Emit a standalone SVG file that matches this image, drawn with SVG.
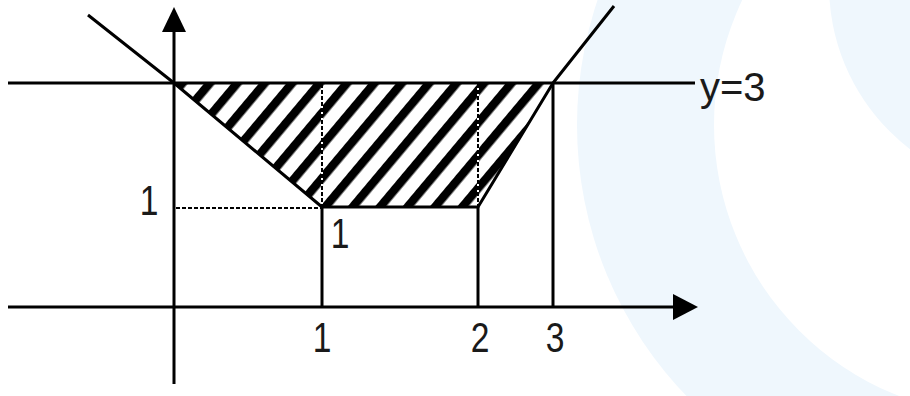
<svg xmlns="http://www.w3.org/2000/svg" width="910" height="396" viewBox="0 0 910 396">
  <style>
    .ln { stroke: #000; stroke-width: 3; fill: none; stroke-linecap: butt; stroke-linejoin: round; }
    .dot { stroke: #000; stroke-width: 2; stroke-dasharray: 4 2; fill: none; }
    .lbl { font-family: "Liberation Sans", Arial, sans-serif; font-size: 42px; fill: #1a1a1a; }
    .bg { fill: #eff7fd; }
  </style>
  <defs>
    <pattern id="hatch" patternUnits="userSpaceOnUse" width="21" height="20" patternTransform="rotate(40)">
      <rect x="0" y="0" width="21" height="20" fill="#fff"/>
      <rect x="0" y="0" width="8.5" height="20" fill="#000"/>
    </pattern>
  </defs>

  <rect width="910" height="396" fill="#fff"/>
  <g id="background">
    <circle class="bg" cx="967" cy="125" r="390"/>
    <circle cx="1005" cy="125" r="291" fill="#fff"/>
    <circle class="bg" cx="1036" cy="-15" r="207"/>
  </g>

  <g id="region">
    <polygon points="174,83 322,207 478,207 553,83" fill="url(#hatch)"/>
    <line x1="322" y1="84" x2="322" y2="207" stroke="#fff" stroke-width="2"/>
    <line x1="478" y1="84" x2="478" y2="207" stroke="#fff" stroke-width="2"/>
    <line class="dot" x1="322" y1="84" x2="322" y2="207"/>
    <line class="dot" x1="478" y1="84" x2="478" y2="207"/>
  </g>

  <g id="connectors">
    <line class="ln" x1="8" y1="83" x2="695" y2="83"/>
    <line class="ln" x1="8" y1="307" x2="676" y2="307"/>
    <polygon points="698,307 673,294 673,320" fill="#000"/>
    <line class="ln" x1="174" y1="384" x2="174" y2="30"/>
    <polygon points="174,7 162,32 186,32" fill="#000"/>
    <polyline class="ln" points="88,15 174,83 322,207 478,207 553,83 614,6"/>
    <line class="dot" x1="176" y1="208" x2="321" y2="208"/>
    <line class="ln" x1="322" y1="207" x2="322" y2="307" stroke="#333"/>
    <line class="ln" x1="478" y1="207" x2="478" y2="307"/>
    <line class="ln" x1="553" y1="83" x2="553" y2="307"/>
  </g>

  <g id="labels">
    <text class="lbl" text-anchor="middle" transform="translate(322,352) scale(0.8,1)">1</text>
    <text class="lbl" text-anchor="middle" transform="translate(480,352) scale(0.8,1)">2</text>
    <text class="lbl" text-anchor="middle" transform="translate(555,352) scale(0.8,1)">3</text>
    <text class="lbl" text-anchor="middle" transform="translate(149,215) scale(0.8,1)">1</text>
    <text class="lbl" text-anchor="middle" transform="translate(340,248) scale(0.8,1)">1</text>
    <text class="lbl" x="700" y="101" style="font-size:40px">y=3</text>
  </g>
</svg>
